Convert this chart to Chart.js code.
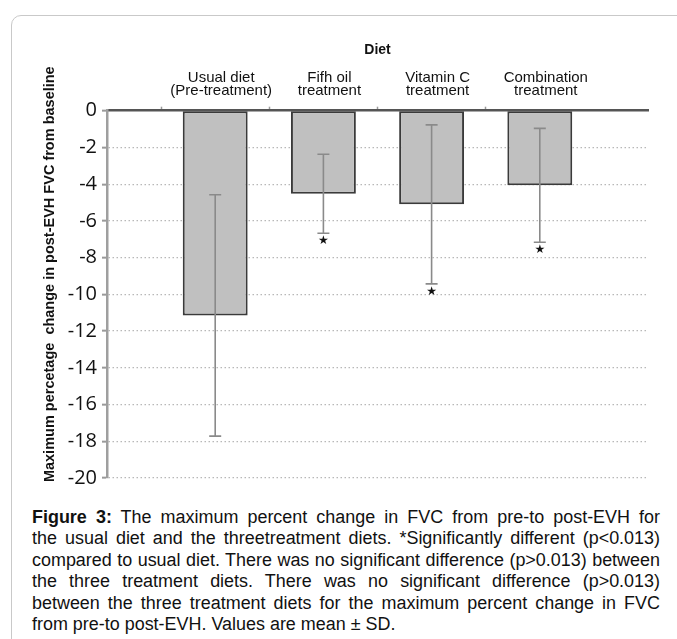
<!DOCTYPE html>
<html>
<head>
<meta charset="utf-8">
<script src="https://cdn.jsdelivr.net/npm/chart.js@4.4.1/dist/chart.umd.min.js"></script>
<style>
  html, body { margin: 0; padding: 0; background: #fff; width: 677px; height: 639px; overflow: hidden; }
  #frame { position: absolute; left: 11px; top: 15px; width: 720px; height: 700px; border: 1px solid #c9c9c9; border-radius: 10px; }
  #wrap { position: absolute; left: 0; top: 0; width: 677px; height: 495px; }
  #caption { position: absolute; left: 32px; top: 507px; width: 628px; font-family: "Liberation Sans", Arial, sans-serif; font-size: 17.95px; line-height: 21.4px; color: #111; }
  #caption .ln { text-align: justify; text-align-last: justify; }
  #caption .last { text-align: left; text-align-last: left; }
</style>
</head>
<body>
<div id="frame"></div>
<div id="wrap"><canvas id="c"></canvas></div>
<div id="caption">
  <div class="ln"><b>Figure 3:</b> The maximum percent change in FVC from pre-to post-EVH for</div>
  <div class="ln">the usual diet and the threetreatment diets. *Significantly different (p&lt;0.013)</div>
  <div class="ln">compared to usual diet. There was no significant difference (p&gt;0.013) between</div>
  <div class="ln">the three treatment diets. There was no significant difference (p&gt;0.013)</div>
  <div class="ln">between the three treatment diets for the maximum percent change in FVC</div>
  <div class="ln last">from pre-to post-EVH. Values are mean ± SD.</div>
</div>
<script>
// ---- data ----
const categories = [
  ['Usual diet', '(Pre-treatment)'],
  ['Fifh oil', 'treatment'],
  ['Vitamin C', 'treatment'],
  ['Combination', 'treatment']
];
const means = [-11.15, -4.52, -5.10, -4.06];
const sds = [6.57, 2.15, 4.33, 3.10];
const significant = [false, true, true, true];
const yMin = -20;
const yMax = 0;
const yStep = 2;
const xTitle = 'Diet';
const yTitle = 'Maximum percetage  change in post-EVH FVC from baseline';

// empty slots at both ends so the four bars sit at positions 1..4 of 0..5
const labels = [''].concat(categories, ['']);
const values = [null].concat(means, [null]);

const SANS = '"Liberation Sans", Arial, sans-serif';
Chart.defaults.font.family = SANS;

const errorBars = {
  id: 'errorBars',
  afterDatasetsDraw(chart) {
    const meta = chart.getDatasetMeta(0);
    const ys = chart.scales.y;
    const ctx = chart.ctx;
    ctx.save();
    means.forEach((m, i) => {
      const el = meta.data[i + 1];
      const x = el.x;
      const yHi = ys.getPixelForValue(m + sds[i]);
      const yLo = ys.getPixelForValue(m - sds[i]);
      ctx.strokeStyle = '#8a8a8a';
      ctx.lineWidth = 1.6;
      ctx.beginPath();
      ctx.moveTo(x, yHi); ctx.lineTo(x, yLo);
      ctx.moveTo(x - 6, yHi); ctx.lineTo(x + 6, yHi);
      ctx.moveTo(x - 6, yLo); ctx.lineTo(x + 6, yLo);
      ctx.stroke();
      if (significant[i]) {
        ctx.fillStyle = '#111';
        ctx.font = '12px "DejaVu Sans"';
        ctx.textAlign = 'center';
        ctx.textBaseline = 'middle';
        ctx.fillText('\u2605', x, yLo + 8);
      }
    });
    ctx.restore();
  }
};

const yTitlePad = ' '.repeat(10);

new Chart(document.getElementById('c'), {
  type: 'bar',
  data: {
    labels: labels,
    datasets: [{
      data: values,
      backgroundColor: '#c0c0c0',
      borderColor: '#3a3a3a',
      borderWidth: 2,
      borderSkipped: false,
      barPercentage: 0.6,
      categoryPercentage: 1
    }]
  },
  options: {
    responsive: true,
    maintainAspectRatio: false,
    animation: false,
    layout: { padding: { left: 0, top: 0, right: 29, bottom: 16.7 } },
    plugins: { legend: { display: false }, tooltip: { enabled: false } },
    scales: {
      x: {
        position: 'top',
        offset: false,
        grid: {
          display: true,
          drawOnChartArea: false,
          drawTicks: true,
          tickLength: 4,
          tickWidth: 1.5,
          tickColor: (c) => (c.index === 0 || c.index === labels.length - 1) ? 'rgba(0,0,0,0)' : '#999'
        },
        border: { display: true, color: '#555', width: 2.5 },
        ticks: {
          autoSkip: false, maxRotation: 0, minRotation: 0,
          padding: 9, labelOffset: 6, color: '#111',
          font: { family: SANS, size: 15, lineHeight: 0.88 }
        },
        title: {
          display: true, text: xTitle, color: '#111',
          font: { family: SANS, size: 14, weight: 'bold', lineHeight: 1.2 },
          padding: { top: 41.8, bottom: 0 }
        },
        afterFit(s) { s.height = 110.7; }
      },
      y: {
        min: yMin, max: yMax,
        ticks: {
          stepSize: yStep, color: '#111', padding: 5,
          font: { family: '"Open Sans", sans-serif', size: 20 }
        },
        grid: {
          color: (c) => (c.tick && c.tick.value === 0) ? 'rgba(0,0,0,0)' : '#b8b8b8',
          lineWidth: 1.3,
          drawTicks: true,
          tickLength: 5,
          tickColor: '#9a9a9a',
          tickWidth: 2,
          tickBorderDash: []
        },
        border: { display: true, color: '#9f9f9f', width: 2.5, dash: [1.5, 2.5] },
        title: {
          display: true, text: yTitlePad + yTitle, color: '#111',
          font: { family: SANS, size: 14.5, weight: 'bold', lineHeight: 1.2 },
          padding: { top: 41.3, bottom: 0 }
        },
        afterFit(s) { s.width = 107; }
      }
    }
  },
  plugins: [errorBars]
});
</script>
</body>
</html>
